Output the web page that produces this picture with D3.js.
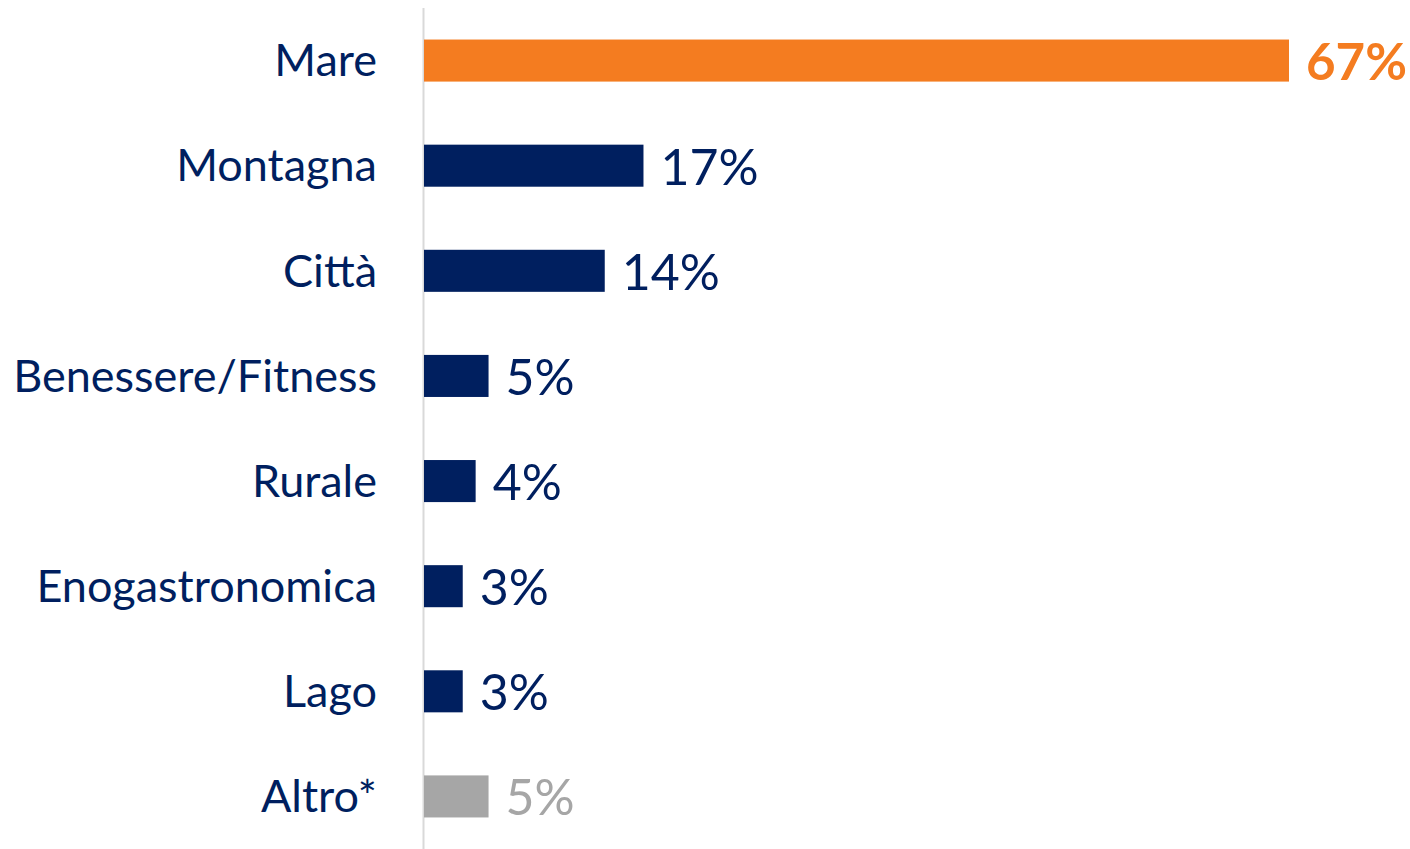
<!DOCTYPE html>
<html>
<head>
<meta charset="utf-8">
<script src="https://cdn.jsdelivr.net/npm/d3@7"></script>
<style>
  html, body { margin: 0; padding: 0; background: #fff; }
  svg { display: block; }
  text { font-family: "Lato", "Open Sans", sans-serif; }
</style>
</head>
<body>
<svg id="chart" width="1410" height="849"></svg>
<script>
// Tipologia di vacanza (% risposte)
const categories = ["Mare", "Montagna", "Città", "Benessere/Fitness", "Rurale", "Enogastronomica", "Lago", "Altro*"];
const values = [67, 17, 14, 5, 4, 3, 3, 5];
const valueLabels = ["67%", "17%", "14%", "5%", "4%", "3%", "3%", "5%"];

const navy = "#001f5f";
const orange = "#f47c20";
const grey = "#a6a6a6";
const colorFor = i => i === 0 ? orange : (i === categories.length - 1 ? grey : navy);

const width = 1410, height = 849;
const x0 = 424;
const svg = d3.select("#chart");

const x = d3.scaleLinear().domain([0, 67]).range([x0, 1289]);
const y = d3.scaleBand().domain(categories).range([8, 849]).paddingInner(0.6).paddingOuter(0.3);

// axis line
svg.append("line")
  .attr("x1", x0 - 0.5).attr("x2", x0 - 0.5)
  .attr("y1", 8).attr("y2", height)
  .attr("stroke", "#d9d9d9").attr("stroke-width", 2);

const rows = categories.map((c, i) => ({ c, v: values[i], l: valueLabels[i], i }));

svg.selectAll("rect.bar").data(rows).join("rect")
  .attr("class", "bar")
  .attr("x", x(0))
  .attr("y", d => y(d.c))
  .attr("width", d => x(d.v) - x(0))
  .attr("height", y.bandwidth())
  .attr("fill", d => colorFor(d.i));

// category labels
svg.selectAll("text.cat").data(rows).join("text")
  .attr("class", "cat")
  .attr("x", 377)
  .attr("y", d => y(d.c) + y.bandwidth() / 2)
  .attr("dy", "0.35em")
  .attr("text-anchor", "end")
  .attr("font-size", 45)
  .attr("fill", navy)
  .text(d => d.c);

// value labels
svg.selectAll("text.val").data(rows).join("text")
  .attr("class", "val")
  .attr("x", d => x(d.v) + 17)
  .attr("y", d => y(d.c) + y.bandwidth() / 2)
  .attr("dy", "0.38em")
  .attr("font-size", d => d.i === 0 ? 51 : 50)
  .attr("font-weight", d => d.i === 0 ? 700 : 400)
  .attr("fill", d => colorFor(d.i))
  .text(d => d.l);
</script>
</body>
</html>
